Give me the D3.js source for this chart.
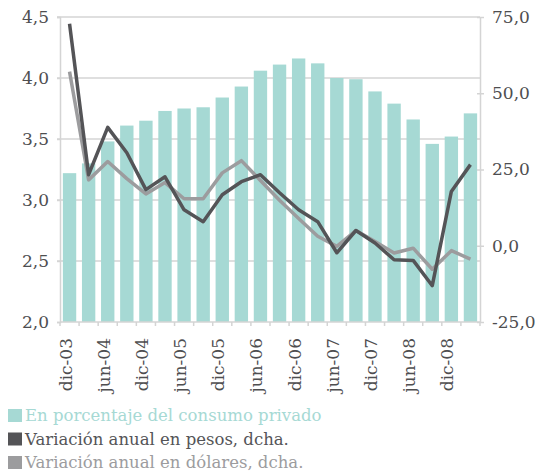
<!DOCTYPE html>
<html>
<head>
<meta charset="utf-8">
<script src="https://cdn.jsdelivr.net/npm/d3@7"></script>
<style>
	body { margin: 0; background: #fff; }
	svg text { font-family: 'DejaVu Serif', serif; }
</style>
</head>
<body>
<div id="chart"></div>
<script>
// quarterly periods, dic-03 .. mar-09
var periods = ['dic-03', 'mar-04', 'jun-04', 'sep-04', 'dic-04', 'mar-05', 'jun-05', 'sep-05',
	'dic-05', 'mar-06', 'jun-06', 'sep-06', 'dic-06', 'mar-07', 'jun-07', 'sep-07',
	'dic-07', 'mar-08', 'jun-08', 'sep-08', 'dic-08', 'mar-09'];
var shownLabels = ['dic-03', 'jun-04', 'dic-04', 'jun-05', 'dic-05', 'jun-06', 'dic-06', 'jun-07', 'dic-07', 'jun-08', 'dic-08'];

var consumoPct = [3.22, 3.30, 3.48, 3.61, 3.65, 3.73, 3.75, 3.76, 3.84, 3.93, 4.06,
	4.11, 4.16, 4.12, 4.00, 3.99, 3.89, 3.79, 3.66, 3.46, 3.52, 3.71];
var varPesos = [72.8, 23.3, 38.8, 30.5, 18.4, 22.6, 11.8, 7.9, 16.7, 21.0, 23.3,
	17.4, 11.8, 7.9, -2.3, 5.0, 0.9, -4.6, -4.8, -13.1, 17.8, 26.6];
var varDolares = [57.1, 21.6, 27.6, 22.0, 17.0, 20.7, 15.4, 15.4, 23.9, 27.9, 21.4,
	14.9, 8.9, 3.1, -0.2, 5.0, 1.4, -2.4, -0.8, -7.7, -1.6, -4.4];

var leftTicks = [2.0, 2.5, 3.0, 3.5, 4.0, 4.5];
var rightTicks = [-25, 0, 25, 50, 75];
var legendLabels = ['En porcentaje del consumo privado', 'Variación anual en pesos, dcha.', 'Variación anual en dólares, dcha.'];

var colors = {
	bar: '#a6d9d4',
	pesos: '#545457',
	dolares: '#9c9c9e',
	grid: '#d4d4d4',
	text: '#4e4e50'
};

var W = 535, H = 474;
var margin = { top: 17, right: 55, bottom: 152, left: 60 };
var width = W - margin.left - margin.right;
var height = H - margin.top - margin.bottom;

var svg = d3.select('#chart').append('svg')
	.attr('width', W)
	.attr('height', H);

var g = svg.append('g')
	.attr('transform', 'translate(' + margin.left + ',' + margin.top + ')');

var x = d3.scaleBand().domain(periods).range([0, width]).paddingInner(0.3).paddingOuter(0.15);
var yL = d3.scaleLinear().domain([2, 4.5]).range([height, 0]);
var yR = d3.scaleLinear().domain([-25, 75]).range([height, 0]);
var fmt = function(d) { return d3.format('.1f')(d).replace('.', ',').replace('\u2212', '-'); };

// gridlines
g.selectAll('.grid')
	.data(leftTicks.slice(1))
	.enter().append('line')
	.attr('x1', -3).attr('x2', width)
	.attr('y1', function(d) { return yL(d); })
	.attr('y2', function(d) { return yL(d); })
	.attr('stroke', colors.grid)
	.attr('stroke-width', 1.5);

// bars
g.selectAll('.bar')
	.data(periods)
	.enter().append('rect')
	.attr('x', function(d) { return x(d); })
	.attr('width', x.bandwidth())
	.attr('y', function(d, i) { return yL(consumoPct[i]); })
	.attr('height', function(d, i) { return height - yL(consumoPct[i]); })
	.attr('fill', colors.bar);

// left axis
var axL = g.append('g')
	.call(d3.axisLeft(yL).tickValues(leftTicks).tickFormat(fmt).tickSize(3).tickPadding(8));
axL.select('.domain').attr('stroke', colors.grid).attr('stroke-width', 1.5);
axL.selectAll('.tick line').attr('stroke', colors.grid).attr('stroke-width', 1.5);
axL.selectAll('.tick text').attr('fill', colors.text).style('font-size', '17px');

// right axis
var axR = g.append('g')
	.attr('transform', 'translate(' + width + ',0)')
	.call(d3.axisRight(yR).tickValues(rightTicks).tickFormat(fmt).tickSizeInner(4).tickSizeOuter(0).tickPadding(8));
axR.select('.domain').attr('stroke', colors.grid).attr('stroke-width', 1.5);
axR.selectAll('.tick line').attr('stroke', colors.grid).attr('stroke-width', 1.5).attr('x1', -3);
axR.selectAll('.tick text').attr('fill', colors.text).style('font-size', '17px');

// bottom axis: ticks at band boundaries
var axB = g.append('g').attr('transform', 'translate(0,' + height + ')');
axB.append('line').attr('x1', 0).attr('x2', width).attr('stroke', colors.grid).attr('stroke-width', 1.5);
axB.selectAll('.btick')
	.data(d3.range(periods.length + 1))
	.enter().append('line')
	.attr('x1', function(i) { return i * x.step(); })
	.attr('x2', function(i) { return i * x.step(); })
	.attr('y1', 0).attr('y2', 4)
	.attr('stroke', colors.grid).attr('stroke-width', 1.5);
axB.selectAll('.xlabel')
	.data(shownLabels)
	.enter().append('text')
	.attr('transform', function(d) {
		return 'translate(' + (x(d) + x.bandwidth() / 2 + 2) + ',16) rotate(-90)';
	})
	.attr('text-anchor', 'end')
	.attr('fill', colors.text)
	.style('font-size', '17px')
	.text(function(d) { return d; });

// lines
var line = function(values) {
	return d3.line()
		.x(function(d, i) { return x(periods[i]) + x.bandwidth() / 2; })
		.y(function(d) { return yR(d); })(values);
};

g.append('path')
	.attr('d', line(varDolares))
	.attr('fill', 'none')
	.attr('stroke', colors.dolares)
	.attr('stroke-width', 3.5)
	.attr('stroke-linejoin', 'round');

g.append('path')
	.attr('d', line(varPesos))
	.attr('fill', 'none')
	.attr('stroke', colors.pesos)
	.attr('stroke-width', 3.5)
	.attr('stroke-linejoin', 'round');

// legend
var legendColors = [colors.bar, colors.pesos, colors.dolares];
var legend = svg.selectAll('.legend')
	.data(legendLabels)
	.enter().append('g')
	.attr('transform', function(d, i) { return 'translate(8,' + (409 + i * 23.5) + ')'; });

legend.append('rect')
	.attr('width', 14).attr('height', 13)
	.attr('fill', function(d, i) { return legendColors[i]; });

legend.append('text')
	.attr('x', 17).attr('y', 12)
	.attr('fill', function(d, i) { return legendColors[i]; })
	.style('font-size', '16.5px')
	.text(function(d) { return d; });
</script>
</body>
</html>
